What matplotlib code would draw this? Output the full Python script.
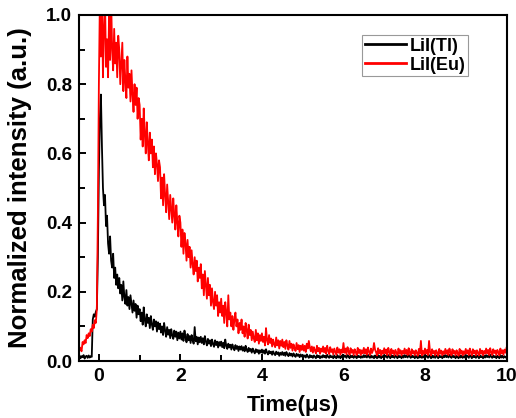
import numpy as np
import matplotlib
matplotlib.use('Agg')
import matplotlib.pyplot as plt
from matplotlib.ticker import MultipleLocator

plt.rcParams['font.family'] = ['Liberation Sans', 'DejaVu Sans']
plt.rcParams['font.weight'] = 'bold'

# sampling times (us), one reading every 0.025 us
time_us = np.round(np.arange(-0.5, 10.0001, 0.025), 3)

# LiI(Tl) trace (one row = 0.5 us)
lii_tl = [
    0.010, 0.016, 0.008, 0.014, 0.011, 0.017, 0.007, 0.013, 0.015, 0.009, 0.016, 0.010, 0.014, 0.012, 0.120, 0.135, 0.128, 0.142, 0.150, 0.300,
    0.550, 0.700, 0.770, 0.620, 0.500, 0.450, 0.480, 0.390, 0.420, 0.340, 0.310, 0.360, 0.290, 0.270, 0.310, 0.240, 0.270, 0.220, 0.250, 0.210,
    0.240, 0.195, 0.220, 0.175, 0.230, 0.185, 0.165, 0.205, 0.160, 0.185, 0.150, 0.190, 0.165, 0.140, 0.175, 0.145, 0.165, 0.125, 0.160, 0.135,
    0.150, 0.115, 0.140, 0.105, 0.155, 0.120, 0.100, 0.135, 0.110, 0.125, 0.095, 0.130, 0.105, 0.090, 0.120, 0.100, 0.115, 0.085, 0.112, 0.092,
    0.108, 0.082, 0.100, 0.075, 0.110, 0.088, 0.070, 0.098, 0.076, 0.090, 0.066, 0.092, 0.074, 0.064, 0.088, 0.070, 0.085, 0.060, 0.082, 0.065,
    0.085, 0.062, 0.080, 0.058, 0.088, 0.068, 0.054, 0.078, 0.060, 0.072, 0.052, 0.075, 0.060, 0.050, 0.098, 0.057, 0.070, 0.048, 0.068, 0.054,
    0.070, 0.052, 0.066, 0.048, 0.072, 0.056, 0.045, 0.064, 0.050, 0.060, 0.043, 0.062, 0.049, 0.041, 0.060, 0.046, 0.056, 0.039, 0.055, 0.044,
    0.056, 0.040, 0.053, 0.037, 0.062, 0.044, 0.035, 0.050, 0.039, 0.047, 0.033, 0.048, 0.038, 0.031, 0.046, 0.035, 0.043, 0.029, 0.042, 0.033,
    0.043, 0.030, 0.040, 0.028, 0.044, 0.033, 0.026, 0.038, 0.029, 0.035, 0.024, 0.036, 0.028, 0.022, 0.034, 0.026, 0.032, 0.021, 0.031, 0.024,
    0.033, 0.023, 0.031, 0.021, 0.034, 0.025, 0.019, 0.029, 0.022, 0.027, 0.018, 0.028, 0.021, 0.017, 0.027, 0.020, 0.025, 0.015, 0.024, 0.018,
    0.026, 0.017, 0.024, 0.015, 0.026, 0.019, 0.014, 0.023, 0.016, 0.021, 0.013, 0.022, 0.016, 0.012, 0.021, 0.015, 0.019, 0.011, 0.019, 0.013,
    0.018, 0.012, 0.016, 0.010, 0.019, 0.013, 0.009, 0.017, 0.011, 0.015, 0.009, 0.016, 0.012, 0.008, 0.017, 0.011, 0.015, 0.008, 0.014, 0.010,
    0.017, 0.011, 0.015, 0.009, 0.018, 0.012, 0.009, 0.016, 0.011, 0.014, 0.008, 0.016, 0.011, 0.008, 0.017, 0.010, 0.014, 0.008, 0.015, 0.010,
    0.018, 0.012, 0.015, 0.009, 0.017, 0.013, 0.008, 0.016, 0.011, 0.015, 0.009, 0.015, 0.012, 0.008, 0.016, 0.011, 0.014, 0.009, 0.014, 0.010,
    0.017, 0.011, 0.016, 0.010, 0.018, 0.012, 0.009, 0.016, 0.010, 0.014, 0.008, 0.016, 0.011, 0.008, 0.017, 0.010, 0.015, 0.008, 0.014, 0.011,
    0.018, 0.012, 0.015, 0.009, 0.017, 0.012, 0.008, 0.017, 0.011, 0.015, 0.009, 0.016, 0.012, 0.008, 0.016, 0.011, 0.014, 0.008, 0.015, 0.010,
    0.017, 0.011, 0.016, 0.010, 0.018, 0.013, 0.009, 0.016, 0.011, 0.014, 0.008, 0.015, 0.011, 0.008, 0.017, 0.010, 0.015, 0.009, 0.014, 0.010,
    0.018, 0.012, 0.015, 0.009, 0.017, 0.012, 0.008, 0.016, 0.010, 0.015, 0.009, 0.016, 0.012, 0.008, 0.016, 0.011, 0.014, 0.008, 0.015, 0.011,
    0.017, 0.011, 0.016, 0.010, 0.018, 0.012, 0.009, 0.017, 0.011, 0.014, 0.008, 0.015, 0.011, 0.008, 0.017, 0.010, 0.015, 0.009, 0.014, 0.010,
    0.018, 0.012, 0.015, 0.009, 0.017, 0.013, 0.008, 0.016, 0.011, 0.015, 0.009, 0.016, 0.012, 0.008, 0.016, 0.011, 0.014, 0.008, 0.015, 0.010,
    0.017, 0.011, 0.016, 0.010, 0.018, 0.012, 0.009, 0.016, 0.011, 0.014, 0.008, 0.015, 0.011, 0.008, 0.017, 0.010, 0.015, 0.009, 0.014, 0.010, 0.012,
]

# LiI(Eu) trace (one row = 0.5 us)
lii_eu = [
    0.022, 0.040, 0.035, 0.028, 0.055, 0.048, 0.060, 0.052, 0.075, 0.066, 0.080, 0.072, 0.092, 0.085, 0.105, 0.095, 0.118, 0.110, 0.150, 0.420,
    0.800, 1.050, 0.880, 1.050, 0.820, 0.960, 1.050, 0.850, 0.930, 0.820, 1.000, 0.870, 1.050, 0.900, 0.840, 0.960, 0.860, 0.920, 0.820, 0.940,
    0.900, 0.800, 0.860, 0.920, 0.780, 0.870, 0.810, 0.760, 0.880, 0.790, 0.830, 0.750, 0.840, 0.770, 0.720, 0.800, 0.740, 0.790, 0.700, 0.760,
    0.740, 0.640, 0.700, 0.620, 0.730, 0.660, 0.600, 0.690, 0.630, 0.580, 0.660, 0.600, 0.640, 0.560, 0.620, 0.540, 0.600, 0.570, 0.520, 0.580,
    0.560, 0.470, 0.530, 0.450, 0.540, 0.480, 0.430, 0.510, 0.460, 0.410, 0.480, 0.440, 0.400, 0.470, 0.420, 0.380, 0.450, 0.400, 0.360, 0.420,
    0.400, 0.330, 0.380, 0.310, 0.370, 0.340, 0.290, 0.350, 0.300, 0.330, 0.270, 0.320, 0.280, 0.250, 0.300, 0.260, 0.290, 0.230, 0.270, 0.240,
    0.280, 0.210, 0.250, 0.190, 0.260, 0.220, 0.180, 0.240, 0.190, 0.220, 0.160, 0.210, 0.170, 0.150, 0.200, 0.160, 0.190, 0.130, 0.170, 0.140,
    0.180, 0.130, 0.160, 0.110, 0.170, 0.140, 0.100, 0.190, 0.120, 0.140, 0.100, 0.130, 0.090, 0.120, 0.140, 0.100, 0.120, 0.080, 0.110, 0.090,
    0.120, 0.080, 0.100, 0.070, 0.110, 0.090, 0.065, 0.105, 0.075, 0.090, 0.060, 0.085, 0.065, 0.055, 0.090, 0.060, 0.080, 0.050, 0.075, 0.058,
    0.080, 0.055, 0.070, 0.045, 0.095, 0.060, 0.048, 0.075, 0.052, 0.065, 0.042, 0.062, 0.048, 0.040, 0.068, 0.045, 0.060, 0.036, 0.058, 0.044,
    0.062, 0.040, 0.055, 0.035, 0.060, 0.045, 0.033, 0.058, 0.038, 0.050, 0.030, 0.048, 0.036, 0.029, 0.052, 0.034, 0.046, 0.026, 0.044, 0.032,
    0.048, 0.030, 0.044, 0.026, 0.050, 0.036, 0.058, 0.040, 0.028, 0.042, 0.024, 0.040, 0.030, 0.022, 0.044, 0.028, 0.038, 0.021, 0.036, 0.027,
    0.042, 0.025, 0.038, 0.021, 0.044, 0.030, 0.020, 0.040, 0.026, 0.034, 0.019, 0.036, 0.027, 0.018, 0.039, 0.024, 0.034, 0.018, 0.033, 0.024,
    0.052, 0.024, 0.036, 0.019, 0.040, 0.028, 0.018, 0.037, 0.024, 0.032, 0.017, 0.034, 0.026, 0.017, 0.038, 0.023, 0.033, 0.017, 0.031, 0.022,
    0.038, 0.022, 0.034, 0.018, 0.039, 0.027, 0.017, 0.036, 0.023, 0.031, 0.052, 0.033, 0.025, 0.016, 0.037, 0.022, 0.032, 0.016, 0.030, 0.021,
    0.037, 0.022, 0.033, 0.017, 0.038, 0.026, 0.016, 0.035, 0.022, 0.030, 0.016, 0.032, 0.024, 0.016, 0.036, 0.021, 0.031, 0.016, 0.029, 0.021,
    0.036, 0.021, 0.032, 0.017, 0.037, 0.025, 0.016, 0.034, 0.022, 0.029, 0.016, 0.031, 0.024, 0.015, 0.035, 0.021, 0.058, 0.016, 0.029, 0.020,
    0.036, 0.021, 0.032, 0.017, 0.058, 0.025, 0.016, 0.034, 0.022, 0.029, 0.016, 0.031, 0.024, 0.015, 0.035, 0.021, 0.030, 0.016, 0.028, 0.020,
    0.035, 0.021, 0.031, 0.017, 0.036, 0.025, 0.016, 0.034, 0.022, 0.029, 0.016, 0.031, 0.024, 0.015, 0.035, 0.021, 0.030, 0.016, 0.028, 0.020,
    0.035, 0.022, 0.031, 0.017, 0.036, 0.025, 0.016, 0.034, 0.022, 0.030, 0.016, 0.031, 0.024, 0.016, 0.035, 0.021, 0.030, 0.016, 0.029, 0.021,
    0.036, 0.022, 0.032, 0.017, 0.037, 0.025, 0.017, 0.034, 0.023, 0.030, 0.017, 0.032, 0.025, 0.016, 0.036, 0.022, 0.031, 0.018, 0.033, 0.024, 0.038,
]

series_labels = ['LiI(Tl)', 'LiI(Eu)']
series_colors = ['#000000', '#ff0000']

fig = plt.figure(figsize=(5.16, 4.18), dpi=100)
ax = fig.add_axes([78.5 / 516, 1 - 361 / 418, 428 / 516, 346 / 418])

ax.plot(time_us, lii_tl, color=series_colors[0], lw=1.3, label=series_labels[0])
ax.plot(time_us, lii_eu, color=series_colors[1], lw=1.3, label=series_labels[1])

ax.set_xlim(-0.5, 10)
ax.set_ylim(0, 1.0)
ax.xaxis.set_major_locator(MultipleLocator(2))
ax.xaxis.set_minor_locator(MultipleLocator(1))
ax.yaxis.set_major_locator(MultipleLocator(0.2))
ax.yaxis.set_minor_locator(MultipleLocator(0.1))
ax.tick_params(which='both', direction='in', width=1.4)
ax.tick_params(which='major', length=5)
ax.tick_params(which='minor', length=4)
ax.tick_params(axis='y', pad=4.5, labelsize=13.5)
ax.tick_params(axis='x', pad=5, labelsize=14)
for sp in ax.spines.values():
    sp.set_linewidth(1.5)

ax.set_xlabel('Time(μs)', fontsize=16, fontweight='bold', labelpad=7)
ax.set_ylabel('Normalized intensity (a.u.)', fontsize=18.5, fontweight='bold', labelpad=10)

leg = ax.legend(loc='upper left', bbox_to_anchor=(362 / 516, 1 - 35 / 418),
                bbox_transform=fig.transFigure, borderaxespad=0,
                fancybox=False, edgecolor='#808080',
                handlelength=2.3, handletextpad=0.2, borderpad=0.15,
                labelspacing=0.1, prop={'weight': 'bold', 'size': 13})
leg.get_frame().set_linewidth(0.8)
for line in leg.get_lines():
    line.set_linewidth(2)

fig.savefig('out.png', dpi=100)
